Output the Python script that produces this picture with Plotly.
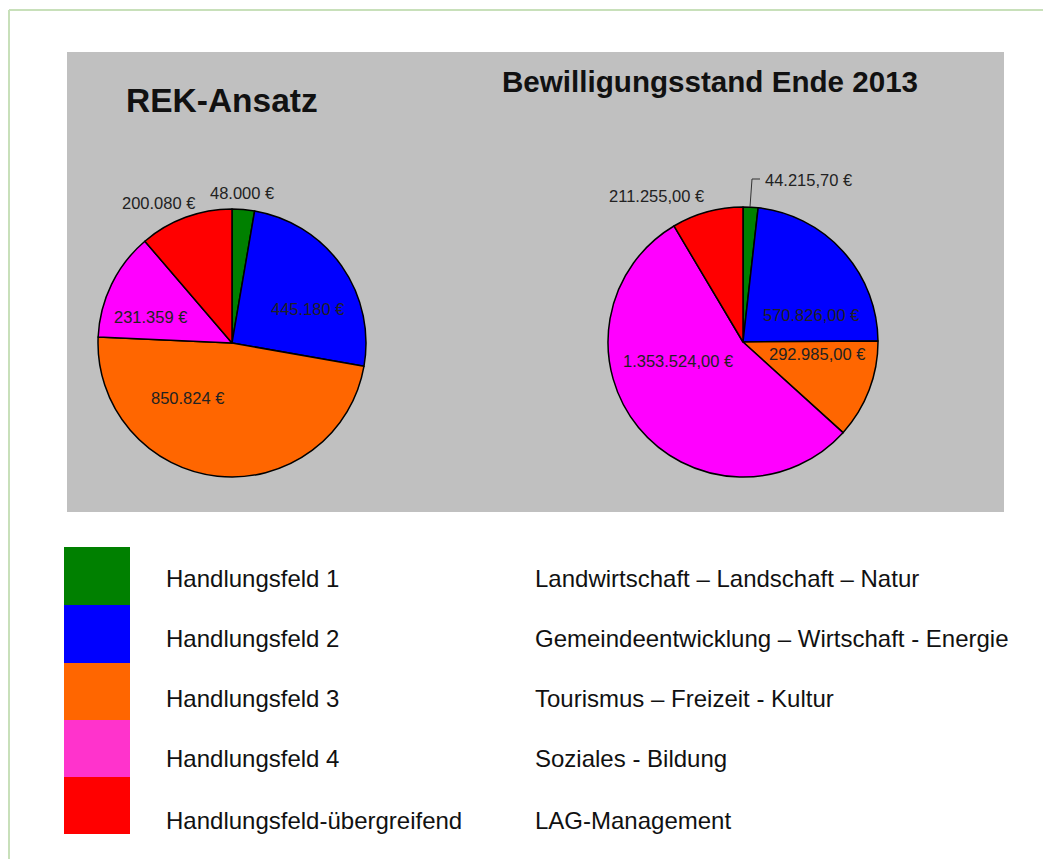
import plotly.graph_objects as go

# ---------------- data ----------------
categories = ["Handlungsfeld 1", "Handlungsfeld 2", "Handlungsfeld 3",
              "Handlungsfeld 4", "Handlungsfeld-übergreifend"]
descriptions = ["Landwirtschaft – Landschaft – Natur",
                "Gemeindeentwicklung – Wirtschaft - Energie",
                "Tourismus – Freizeit - Kultur",
                "Soziales - Bildung",
                "LAG-Management"]
rek_values = [48000, 445180, 850824, 231359, 200080]
bew_values = [44215.70, 570826.00, 292985.00, 1353524.00, 211255.00]
titles = ["REK-Ansatz", "Bewilligungsstand Ende 2013"]

# ---------------- style ----------------
pie_colors = ["#008000", "#0000FF", "#FF6600", "#FF00FF", "#FF0000"]
legend_colors = ["#008000", "#0000FF", "#FF6600", "#FF33CC", "#FF0000"]

# page body has an 8px margin: figure is placed at (8, 8) of the window
OFF = 8
W, H = 1051 - OFF, 859 - OFF


def px(x):
    return (x - OFF) / W


def py(y):
    return 1 - (y - OFF) / H


def de_fmt(v, dec):
    s = f"{v:,.{dec}f}"
    s = s.replace(",", "X").replace(".", ",").replace("X", ".")
    return s + " €"


rek_labels = [de_fmt(v, 0) for v in rek_values]
bew_labels = [de_fmt(v, 2) for v in bew_values]

# label placement (window-pixel positions of text centres)
rek_label_pos = [(242, 193), (307, 309), (187, 398), (150, 317), (158, 203)]
bew_label_pos = [(808, 180), (811, 315), (817, 354), (678, 361), (656, 196)]

fig = go.Figure()

common = dict(sort=False, direction="clockwise", rotation=0,
              textinfo="none", hoverinfo="skip", showlegend=False,
              marker=dict(colors=pie_colors, line=dict(color="#000000", width=1.5)))

fig.add_trace(go.Pie(labels=categories, values=rek_values,
                     domain=dict(x=[px(98), px(366)], y=[py(477), py(209)]),
                     **common))
fig.add_trace(go.Pie(labels=categories, values=bew_values,
                     domain=dict(x=[px(608), px(878)], y=[py(477), py(207)]),
                     **common))

shapes = []
# outer light-green frame
shapes.append(dict(type="line", xref="paper", yref="paper",
                   x0=px(9), y0=py(10), x1=px(1070), y1=py(10),
                   line=dict(color="#C8E0BA", width=2)))
shapes.append(dict(type="line", xref="paper", yref="paper",
                   x0=px(9), y0=py(10), x1=px(9), y1=py(880),
                   line=dict(color="#C8E0BA", width=2)))
# grey chart panel
shapes.append(dict(type="rect", xref="paper", yref="paper", layer="below",
                   x0=px(67), y0=py(52), x1=px(1004), y1=py(512),
                   fillcolor="#C0C0C0", line=dict(width=0)))
# leader line for small slice
shapes.append(dict(type="path", xref="paper", yref="paper",
                   path=f"M {px(750)} {py(207)} L {px(752)} {py(179)} L {px(760)} {py(179)}",
                   line=dict(color="#333333", width=1)))

# legend swatches
row_tops = [547, 605, 663, 720, 777, 834]
for i, c in enumerate(legend_colors):
    shapes.append(dict(type="rect", xref="paper", yref="paper",
                       x0=px(64), x1=px(130), y0=py(row_tops[i + 1]), y1=py(row_tops[i]),
                       fillcolor=c, line=dict(width=0)))

annotations = []
# titles
annotations.append(dict(text=f"<b>{titles[0]}</b>", x=px(222), y=py(100),
                        xref="paper", yref="paper", showarrow=False,
                        xanchor="center", yanchor="middle",
                        font=dict(family="Liberation Sans, Arial", size=33.5, color="#111111")))
annotations.append(dict(text=f"<b>{titles[1]}</b>", x=px(710), y=py(82),
                        xref="paper", yref="paper", showarrow=False,
                        xanchor="center", yanchor="middle",
                        font=dict(family="Liberation Sans, Arial", size=29.6, color="#111111")))

label_font = dict(family="Liberation Sans, Arial", size=16.5, color="#222222")
for lbl, (x, y) in zip(rek_labels, rek_label_pos):
    annotations.append(dict(text=lbl, x=px(x), y=py(y), xref="paper", yref="paper",
                            showarrow=False, xanchor="center", yanchor="middle",
                            font=label_font))
for lbl, (x, y) in zip(bew_labels, bew_label_pos):
    annotations.append(dict(text=lbl, x=px(x), y=py(y), xref="paper", yref="paper",
                            showarrow=False, xanchor="center", yanchor="middle",
                            font=label_font))

# legend texts
text_rows = [578, 638, 698, 758, 820]
leg_font = dict(family="Liberation Sans, Arial, sans-serif", size=24, color="#111111")
for cat, desc, y in zip(categories, descriptions, text_rows):
    annotations.append(dict(text=cat, x=px(164), y=py(y), xref="paper", yref="paper",
                            showarrow=False, xanchor="left", yanchor="middle", font=leg_font))
    annotations.append(dict(text=desc, x=px(533), y=py(y), xref="paper", yref="paper",
                            showarrow=False, xanchor="left", yanchor="middle", font=leg_font))

fig.update_layout(width=W, height=H, margin=dict(l=0, r=0, t=0, b=0),
                  paper_bgcolor="#FFFFFF", plot_bgcolor="#FFFFFF",
                  shapes=shapes, annotations=annotations, showlegend=False)

fig.write_html("out.html")
